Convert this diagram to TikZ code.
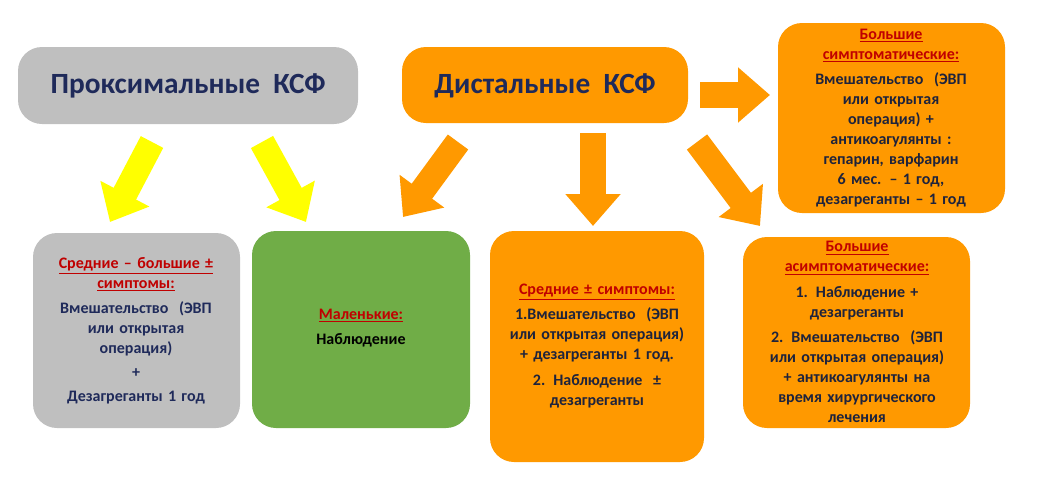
\documentclass[tikz,border=0pt]{standalone}
\usepackage{fontspec}
\setmainfont{Carlito}
\usepackage{tikz}
\usetikzlibrary{arrows.meta}
\definecolor{ksfgray}{RGB}{191,191,191}
\definecolor{ksforange}{RGB}{255,153,0}
\definecolor{ksfgreen}{RGB}{112,173,71}
\definecolor{ksfyellow}{RGB}{255,255,0}
\definecolor{ksfnavy}{RGB}{31,42,90}
\definecolor{ksfdark}{RGB}{30,35,60}
\definecolor{ksfred}{RGB}{192,0,0}
\tikzset{
  box/.style={rounded corners=18pt, draw=none},
  head/.style={font=\bfseries\fontsize{22}{26}\selectfont, text=ksfnavy},
  body/.style={font=\bfseries\fontsize{12}{15}\selectfont, align=center, text width=#1},
  bigarrow/.style={line width=19pt, draw=#1, -{Triangle[length=24pt,width=40pt]}},
}
\newcommand{\ttl}[1]{\textcolor{ksfred}{\underline{#1}}}
\begin{document}
\begin{tikzpicture}[x=0.75pt,y=0.75pt,yscale=-1,xscale=1]
\useasboundingbox (0,0) rectangle (1045,493);

%Boxes
\fill[box, ksfgray] (18,47) rectangle (358,124);
\fill[box, ksforange] (402,47) rectangle (688,123);
\fill[box, ksforange] (778,23) rectangle (1005,213);
\fill[box, ksfgray] (33,233) rectangle (240,428);
\fill[box, ksfgreen] (252,231) rectangle (470,428);
\fill[box, ksforange] (490,231) rectangle (704,462);
\fill[box, ksforange] (743,237) rectangle (970,428);

%Arrows
\coordinate (y1s) at (152,142); \coordinate (y1e) at (110,222);
\coordinate (y2s) at (262,142); \coordinate (y2e) at (306,222);
\coordinate (o1s) at (458,142); \coordinate (o1e) at (403,217);
\coordinate (o2s) at (593,133); \coordinate (o2e) at (593,226);
\coordinate (o3s) at (697,142); \coordinate (o3e) at (760,226);
\coordinate (o4s) at (700,95); \coordinate (o4e) at (770,95);
\draw[bigarrow=ksfyellow] (y1s) -- (y1e);
\draw[bigarrow=ksfyellow] (y2s) -- (y2e);
\foreach \i in {1,...,4}
  \draw[bigarrow=ksforange] (o\i s) -- (o\i e);

% Text Node
\node[head] (prox) at (188,86) {Проксимальные\ \ КСФ};
\node[head] (dist) at (545,86) {Дистальные\ \ КСФ};
\node[body=160pt, text=ksfdark] (bigsym) at (891,118)
  {\ttl{Большие}\\ \ttl{симптоматические:}\\[4pt]
   Вмешательство\ \ (ЭВП\\ или открытая\\ операция) +\\ антикоагулянты :\\ гепарин,\ варфарин\\ 6\ мес. – 1 год,\\ дезагреганты – 1 год};
\node[body=150pt, text=ksfnavy] (mid) at (136,331)
  {\ttl{Средние – большие ±}\\ \ttl{симптомы:}\\[4pt]
   Вмешательство\ \ (ЭВП\\ или открытая\\ операция)\\[3pt] +\\[3pt] Дезагреганты\ 1\ год};
\node[body=150pt, text=black] (small) at (361,328)
  {\ttl{Маленькие:}\\[4pt] Наблюдение};
\node[body=160pt, text=ksfdark] (midsym) at (597,346)
  {\ttl{Средние ± симптомы:}\\[4pt]
   1.Вмешательство\ \ (ЭВП\\ или\ открытая\ операция)\\ + дезагреганты\ 1\ год.\\[4pt]
   2. Наблюдение\ \ ±\\ дезагреганты};
\node[body=165pt, text=ksfdark] (bigasym) at (857,332)
  {\ttl{Большие}\\ \ttl{асимптоматические:}\\[4pt]
   1. Наблюдение\ +\\ дезагреганты\\[4pt]
   2. Вмешательство\ \ (ЭВП\\ или\ открытая\ операция)\\ + антикоагулянты\ на\\ время\ хирургического\\ лечения};
\end{tikzpicture}
\end{document}
